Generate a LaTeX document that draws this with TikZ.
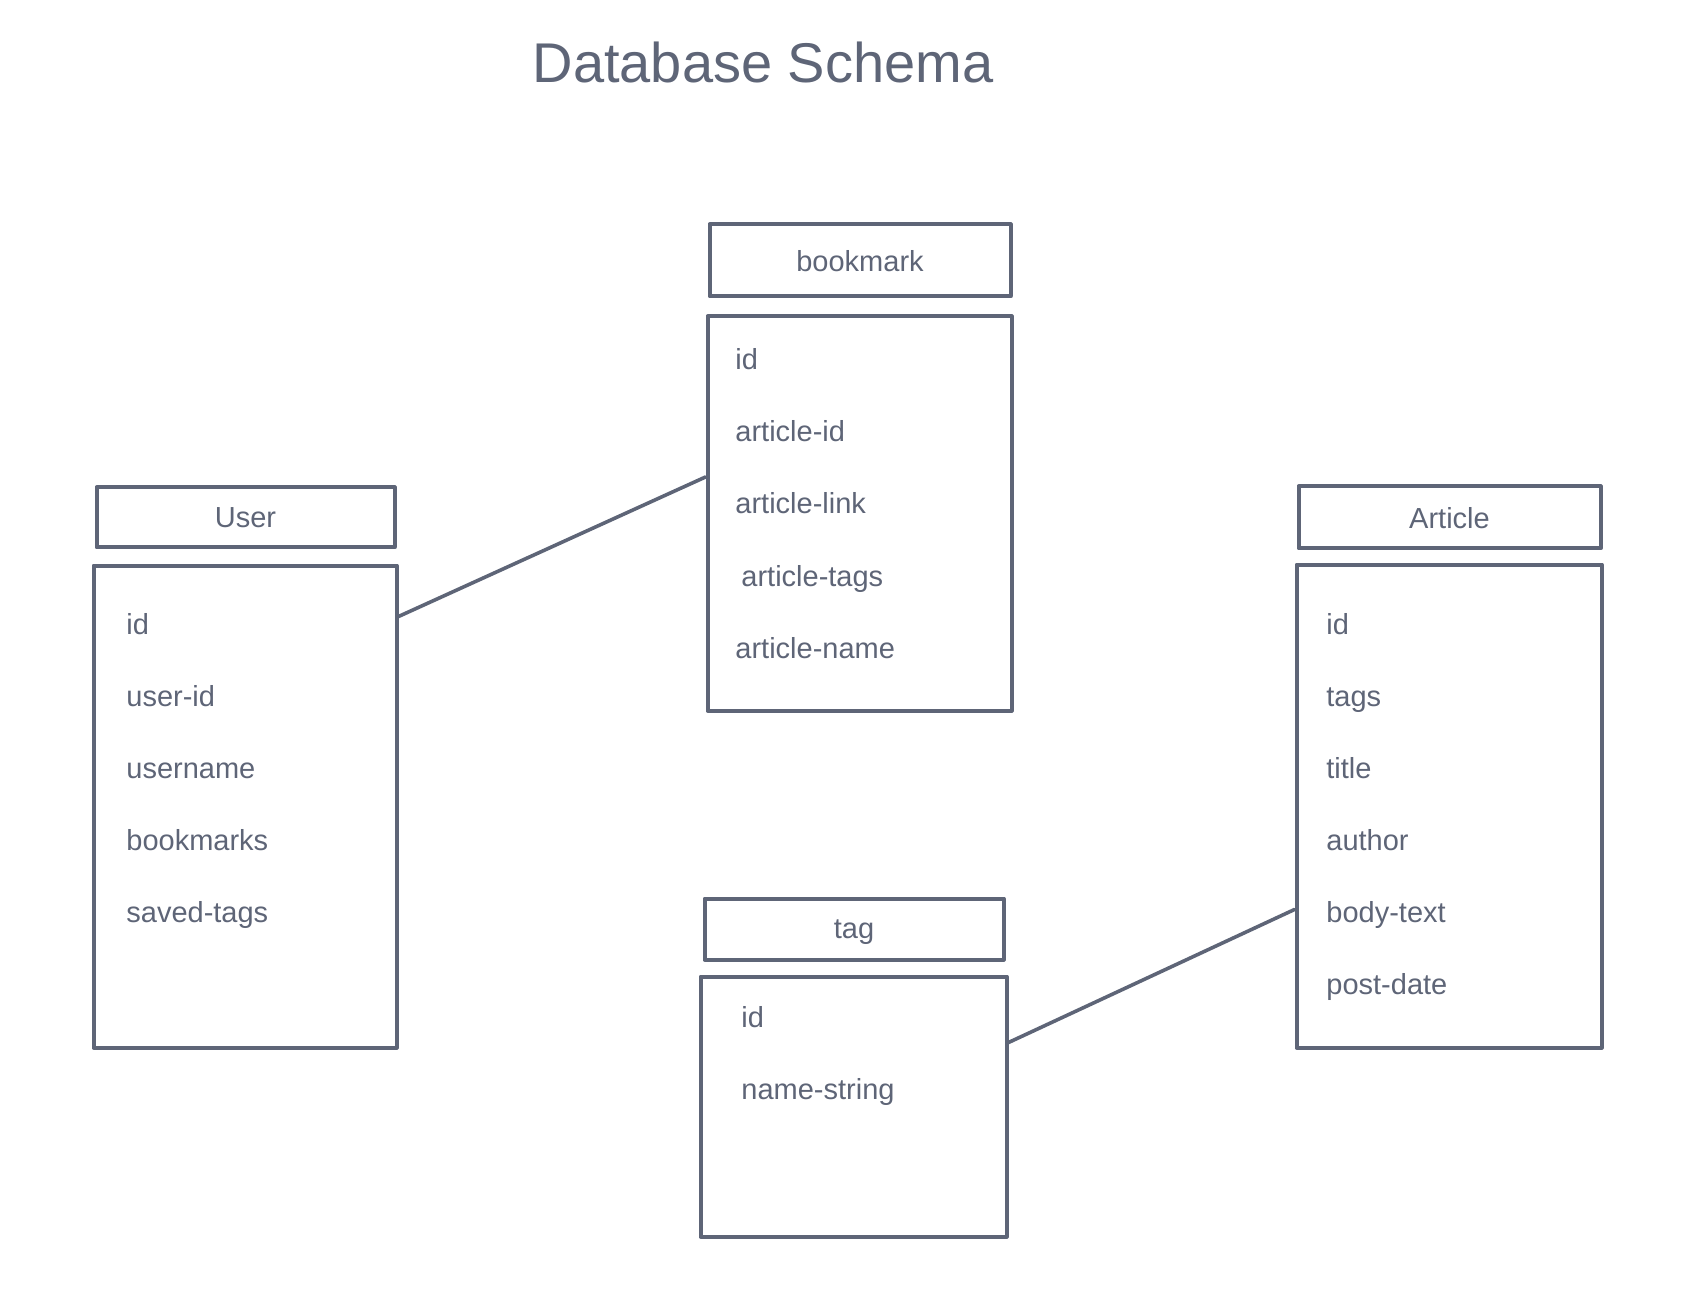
\documentclass[tikz,border=0pt]{standalone}
\usepackage{fontspec}
\setmainfont{Liberation Sans}
\definecolor{slate}{HTML}{5E6577}
\begin{document}
\begin{tikzpicture}[x=0.5pt,y=-0.5pt,
	box/.style={draw=slate,line width=2pt,line join=round,inner sep=0pt,text=slate,font=\fontsize{14.5}{17}\selectfont,text depth=0pt},
	item/.style={anchor=base west,inner sep=0pt,text=slate,font=\fontsize{14.5}{17}\selectfont},
	link/.style={draw=slate,line width=1.8pt,line cap=round}]
		\useasboundingbox (0,0) rectangle (1707,1315);
		\node[anchor=base,text=slate,font=\fontsize{28}{32}\selectfont] (title) at (763,83) {Database Schema};
		% User
		\node[box,minimum width=149pt,minimum height=30pt] (uhead) at (245.5,517.5) {User};
		\node[box,minimum width=151.5pt,minimum height=241pt] (ubody) at (245,806.5) {};
		\foreach \t [count=\i from 0] in {id,user-id,username,bookmarks,saved-tags}
			\node[item] (u\i) at (126,634+72*\i) {\t};
		% bookmark
		\node[box,minimum width=150.5pt,minimum height=36pt] (bhead) at (860,260.5) {bookmark\hspace{7pt}};
		\node[box,minimum width=152pt,minimum height=197pt] (bbody) at (859.5,513.5) {};
		\foreach \t [count=\i from 0] in {id,article-id,article-link}
			\node[item] (b\i) at (735,370+72*\i) {\t};
		\node[item] (b3) at (741,586) {article-tags};
		\node[item] (b4) at (735,658) {article-name};
		% Article
		\node[box,minimum width=151pt,minimum height=31pt] (ahead) at (1449.5,517.5) {Article};
		\node[box,minimum width=152.5pt,minimum height=241.5pt] (abody) at (1449,806) {};
		\foreach \t [count=\i from 0] in {id,tags,title,author,body-text,post-date}
			\node[item] (a\i) at (1326,634+72*\i) {\t};
		% tag
		\node[box,minimum width=149.5pt,minimum height=30.5pt] (thead) at (854,929) {tag};
		\node[box,minimum width=153pt,minimum height=130pt] (tbody) at (853.5,1106.5) {};
		\foreach \t [count=\i from 0] in {id,name-string}
			\node[item] (t\i) at (741,1027+72*\i) {\t};
		\draw[link] ([yshift=-26.5pt]ubody.north east) -- ([yshift=18.25pt]bbody.west);
		\draw[link] ([yshift=-34pt]tbody.north east) -- ([yshift=-173.5pt]abody.north west);
\end{tikzpicture}
\end{document}
